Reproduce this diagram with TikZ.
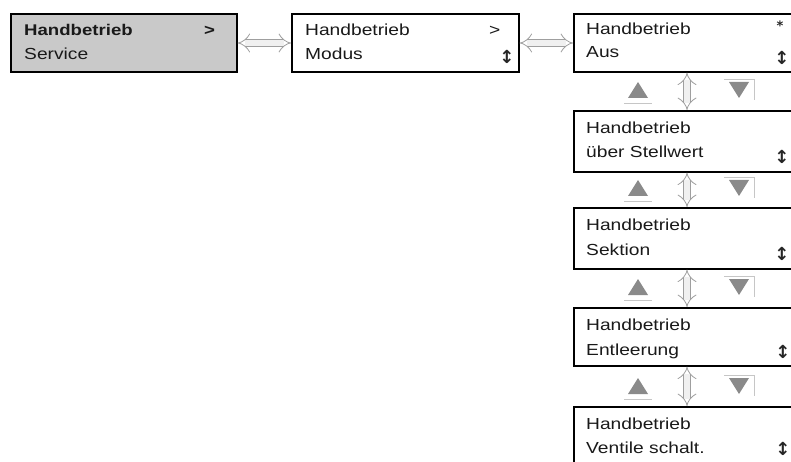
\documentclass[tikz,border=0pt]{standalone}
\usepackage{fontspec}
\setmainfont{Liberation Sans}
\newfontfamily\lcd[FakeStretch=1.2]{Liberation Sans}
\newfontfamily\symf{DejaVu Sans}
\usetikzlibrary{arrows.meta}
\tikzset{
  menubox/.style={draw=black, line width=1.7pt, anchor=north west, inner sep=0pt, minimum width=#1},
  txt/.style={anchor=base west, inner sep=0pt, text=black!90, font=\lcd\fontsize{16}{18}\selectfont},
  sym/.style={inner sep=0pt, text=black!85, font=\symf\bfseries\fontsize{18}{20}\selectfont},
  darr/.style={draw=gray!75, line width=0.8pt, double=gray!12, double distance=6pt, {Implies}-{Implies}},
  tri/.style={fill=gray!85!black!80},
  btnline/.style={draw=gray!45, line width=0.9pt}
}
\begin{document}
\begin{tikzpicture}[x=1pt,y=-1pt]
\useasboundingbox (0,0) rectangle (791,462);
\clip (0,0) rectangle (791,462);
% boxes
\node[menubox=226pt, minimum height=58pt, fill=gray!42] (b1) at (10,13) {};
\node[menubox=227pt, minimum height=58pt] (b2) at (291,13) {};
\node[menubox=232pt, minimum height=58pt] (b3) at (573,13) {};
\node[menubox=232pt, minimum height=61pt] (b4) at (573,110) {};
\node[menubox=232pt, minimum height=61pt] (b5) at (573,207) {};
\node[menubox=232pt, minimum height=58pt] (b6) at (573,307) {};
\node[menubox=232pt, minimum height=70pt] (b7) at (573,406) {};
% texts
\node[txt, font=\lcd\bfseries\fontsize{15.5}{18}\selectfont] (t1a) at (24,36) {Handbetrieb};
\node[txt] (t1b) at (24,60) {Service};
\node[txt, font=\lcd\bfseries\fontsize{15.5}{18}\selectfont] (g1) at (204,36) {>};
\node[txt] (t2a) at (305,36) {Handbetrieb};
\node[txt] (t2b) at (305,60) {Modus};
\node[txt] (g2) at (489,36) {>};
\node[sym] (s2) at (507,57) {↕};
\node[txt] (t3a) at (586,35) {Handbetrieb};
\node[txt] (t3b) at (586,58) {Aus};
\node[sym, font=\symf\bfseries\fontsize{13}{14}\selectfont] (st) at (780,26) {*};
\node[sym] (s3) at (782,58) {↕};
\node[txt] (t4a) at (586,134) {Handbetrieb};
\node[txt] (t4b) at (586,158) {über Stellwert};
\node[sym] (s4) at (782,157) {↕};
\node[txt] (t5a) at (586,230) {Handbetrieb};
\node[txt] (t5b) at (586,255) {Sektion};
\node[sym] (s5) at (782,254) {↕};
\node[txt] (t6a) at (586,330) {Handbetrieb};
\node[txt] (t6b) at (586,355) {Entleerung};
\node[sym] (s6) at (783,352) {↕};
\node[txt] (t7a) at (586,429) {Handbetrieb};
\node[txt] (t7b) at (586,453) {Ventile schalt.};
\node[sym] (s7) at (783,449) {↕};
% horizontal arrows
\draw[darr] (b1.east |- 0,43) -- (b2.west |- 0,43);
\draw[darr] (b2.east |- 0,43) -- (b3.west |- 0,43);
% vertical arrows and buttons
\coordinate (ax) at (687,0);
\foreach \u/\l/\yc in {b3/b4/90, b4/b5/188, b5/b6/287, b6/b7/386}{
  \draw[darr] (\u.south -| ax) -- (\l.north -| ax);
  \fill[tri] (628,\yc+8) -- (648,\yc+8) -- (638,\yc-8) -- cycle;
  \draw[btnline] (624,\yc+13) -- (652,\yc+13);
  \fill[tri] (729,\yc-8) -- (749,\yc-8) -- (739,\yc+8) -- cycle;
  \draw[btnline] (724,\yc-11) -- (754,\yc-11) -- (754,\yc+10);
}
\end{tikzpicture}
\end{document}
